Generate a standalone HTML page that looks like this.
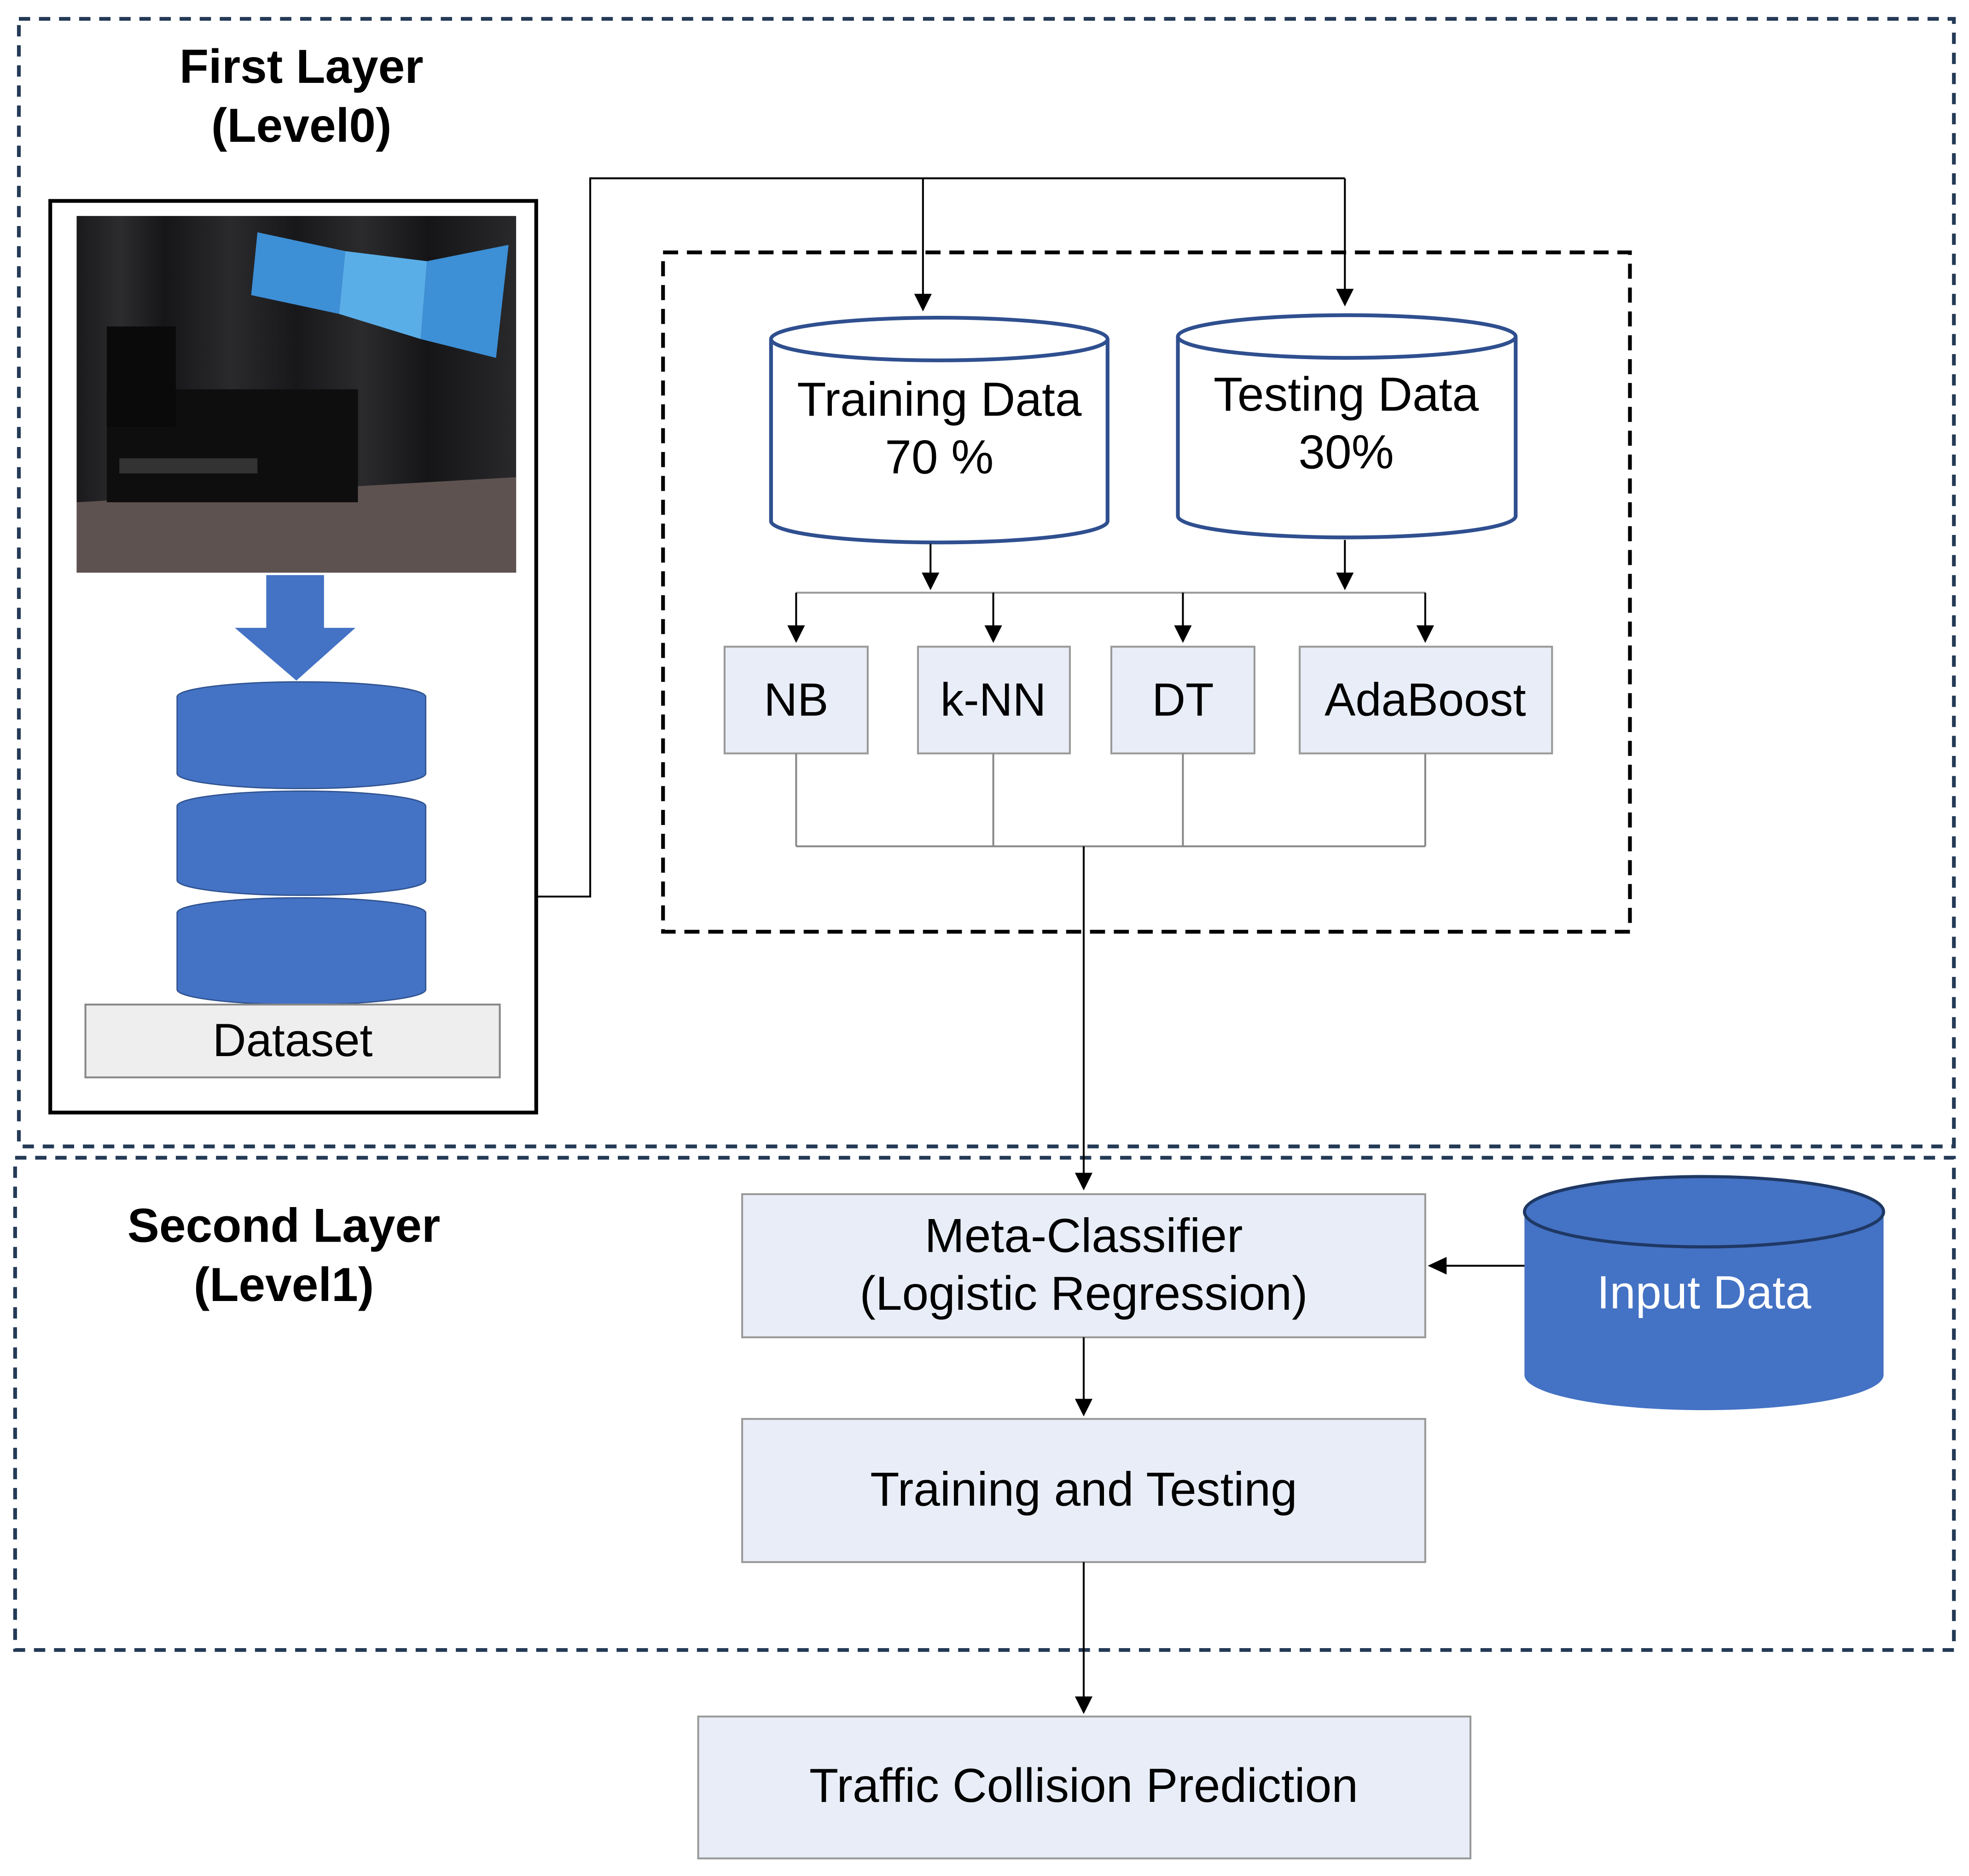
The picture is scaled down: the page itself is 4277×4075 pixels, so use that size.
<!DOCTYPE html>
<html><head><meta charset="utf-8"><style>
html,body{margin:0;padding:0;background:#fff}
svg{display:block}
text{font-family:"Liberation Sans",Arial,sans-serif}
</style></head><body>
<svg width="4277" height="4075" viewBox="0 0 1568 1494" xmlns="http://www.w3.org/2000/svg">
<defs>
<linearGradient id="ph" x1="0" y1="0" x2="1" y2="0">
<stop offset="0" stop-color="#1a1a1c"/><stop offset="0.1" stop-color="#2c2c2e"/><stop offset="0.2" stop-color="#161618"/><stop offset="0.35" stop-color="#2a2a2c"/><stop offset="0.5" stop-color="#18181a"/><stop offset="0.65" stop-color="#2b2b2d"/><stop offset="0.8" stop-color="#151517"/><stop offset="1" stop-color="#29292b"/></linearGradient>
</defs>
<rect width="1568" height="1494" fill="#fff"/>
<rect x="15" y="15" width="1541" height="898" fill="none" stroke="#243a56" stroke-width="3" stroke-dasharray="9,7"/>
<rect x="12" y="922" width="1544" height="392" fill="none" stroke="#243a56" stroke-width="3" stroke-dasharray="9,7"/>
<text x="240" y="66" font-size="38" font-weight="bold" text-anchor="middle">First Layer</text>
<text x="240" y="113" font-size="38" font-weight="bold" text-anchor="middle">(Level0)</text>
<text x="226" y="989" font-size="38" font-weight="bold" text-anchor="middle">Second Layer</text>
<text x="226" y="1036" font-size="38" font-weight="bold" text-anchor="middle">(Level1)</text>
<rect x="40" y="160" width="387" height="726" fill="#fff" stroke="#000" stroke-width="3"/>
<rect x="61" y="172" width="350" height="284" fill="url(#ph)"/>
<polygon points="61,400 411,380 411,456 61,456" fill="#5e5250"/>
<polygon points="205,185 275,200 270,250 200,235" fill="#3d8fd6"/>
<polygon points="275,200 340,208 335,270 270,250" fill="#5aaee8"/>
<polygon points="340,208 405,195 395,285 335,270" fill="#3d8fd6"/>
<rect x="85" y="310" width="200" height="90" fill="#0e0e0e"/>
<rect x="85" y="260" width="55" height="80" fill="#0a0a0a"/>
<rect x="95" y="365" width="110" height="12" fill="#333"/>
<rect x="212" y="458" width="46" height="44" fill="#4472c4"/>
<polygon points="187,500 283,500 236,542" fill="#4472c4"/>
<g fill="#4472c4" stroke="#2f528f" stroke-width="1">
<path d="M141,555 v61 a99,12 0 0 0 198,0 v-61 a99,12 0 0 0 -198,0z"/>
<path d="M141,642 v59 a99,12 0 0 0 198,0 v-59 a99,12 0 0 0 -198,0z"/>
<path d="M141,727 v61 a99,12 0 0 0 198,0 v-61 a99,12 0 0 0 -198,0z"/>
</g>
<rect x="68" y="800" width="330" height="58" fill="#eeeeee" stroke="#888" stroke-width="1.5"/>
<text x="233" y="841" font-size="37" text-anchor="middle">Dataset</text>
<g stroke="#000" stroke-width="1.5" fill="none">
<polyline points="427,714 470,714 470,142 1071,142"/>
<line x1="735" y1="142" x2="735" y2="236"/>
<line x1="1071" y1="142" x2="1071" y2="232"/>
</g>
<polygon points="728,234 742,234 735,248" fill="#000"/>
<polygon points="1064,230 1078,230 1071,244" fill="#000"/>
<rect x="528" y="201" width="770" height="541" fill="none" stroke="#000" stroke-width="3" stroke-dasharray="12,7"/>
<g fill="#fff" stroke="#2f4f8f" stroke-width="3">
<path d="M614,270 v145 a134,17 0 0 0 268,0 v-145"/>
<ellipse cx="748" cy="270" rx="134" ry="17"/>
<path d="M938,268 v143 a134.5,17 0 0 0 269,0 v-143"/>
<ellipse cx="1072.5" cy="268" rx="134.5" ry="17"/>
</g>
<text x="748" y="331" font-size="38" text-anchor="middle">Training Data</text>
<text x="748" y="377" font-size="38" text-anchor="middle">70 %</text>
<text x="1072" y="327" font-size="38" text-anchor="middle">Testing Data</text>
<text x="1072" y="373" font-size="38" text-anchor="middle">30%</text>
<g stroke="#000" stroke-width="1.5" fill="none">
<line x1="741" y1="433" x2="741" y2="458"/>
<line x1="1071" y1="430" x2="1071" y2="458"/>
<line x1="634" y1="472" x2="1135" y2="472" stroke="#999"/>
<line x1="634" y1="472" x2="634" y2="500"/>
<line x1="791" y1="472" x2="791" y2="500"/>
<line x1="942" y1="472" x2="942" y2="500"/>
<line x1="1135" y1="472" x2="1135" y2="500"/>
</g>
<g fill="#000">
<polygon points="734,456 748,456 741,470"/>
<polygon points="1064,456 1078,456 1071,470"/>
<polygon points="627,498 641,498 634,512"/>
<polygon points="784,498 798,498 791,512"/>
<polygon points="935,498 949,498 942,512"/>
<polygon points="1128,498 1142,498 1135,512"/>
</g>
<g fill="#e8edf7" stroke="#999" stroke-width="1.5">
<rect x="577" y="515" width="114" height="85"/>
<rect x="731" y="515" width="121" height="85"/>
<rect x="885" y="515" width="114" height="85"/>
<rect x="1035" y="515" width="201" height="85"/>
</g>
<text x="634" y="570" font-size="37" text-anchor="middle">NB</text>
<text x="791" y="570" font-size="37" text-anchor="middle">k-NN</text>
<text x="942" y="570" font-size="37" text-anchor="middle">DT</text>
<text x="1135" y="570" font-size="37" text-anchor="middle">AdaBoost</text>
<g stroke="#888" stroke-width="1.5" fill="none">
<line x1="634" y1="600" x2="634" y2="674"/>
<line x1="791" y1="600" x2="791" y2="674"/>
<line x1="942" y1="600" x2="942" y2="674"/>
<line x1="1135" y1="600" x2="1135" y2="674"/>
<line x1="634" y1="674" x2="1135" y2="674"/>
</g>
<line x1="863" y1="674" x2="863" y2="936" stroke="#000" stroke-width="1.5"/>
<polygon points="856,934 870,934 863,948" fill="#000"/>
<g fill="#e8edf7" stroke="#999" stroke-width="1.5">
<rect x="591" y="951" width="544" height="114"/>
<rect x="591" y="1130" width="544" height="114"/>
<rect x="556" y="1367" width="615" height="113"/>
</g>
<text x="863" y="997" font-size="38" text-anchor="middle">Meta-Classifier</text>
<text x="863" y="1043" font-size="38" text-anchor="middle">(Logistic Regression)</text>
<text x="863" y="1199" font-size="38" text-anchor="middle">Training and Testing</text>
<text x="863" y="1435" font-size="38" text-anchor="middle">Traffic Collision Prediction</text>
<g stroke="#000" stroke-width="1.5">
<line x1="863" y1="1065" x2="863" y2="1116"/>
<line x1="863" y1="1244" x2="863" y2="1353"/>
<line x1="1214" y1="1008" x2="1150" y2="1008"/>
</g>
<g fill="#000">
<polygon points="856,1114 870,1114 863,1128"/>
<polygon points="856,1351 870,1351 863,1365"/>
<polygon points="1152,1001 1152,1015 1137,1008"/>
</g>
<path d="M1214,965 v130 a143,28 0 0 0 286,0 v-130z" fill="#4472c4"/>
<ellipse cx="1357" cy="965" rx="143" ry="28" fill="#4472c4" stroke="#1f3864" stroke-width="2.5"/>
<text x="1357" y="1042" font-size="37" fill="#fff" text-anchor="middle">Input Data</text>
</svg>
</body></html>
